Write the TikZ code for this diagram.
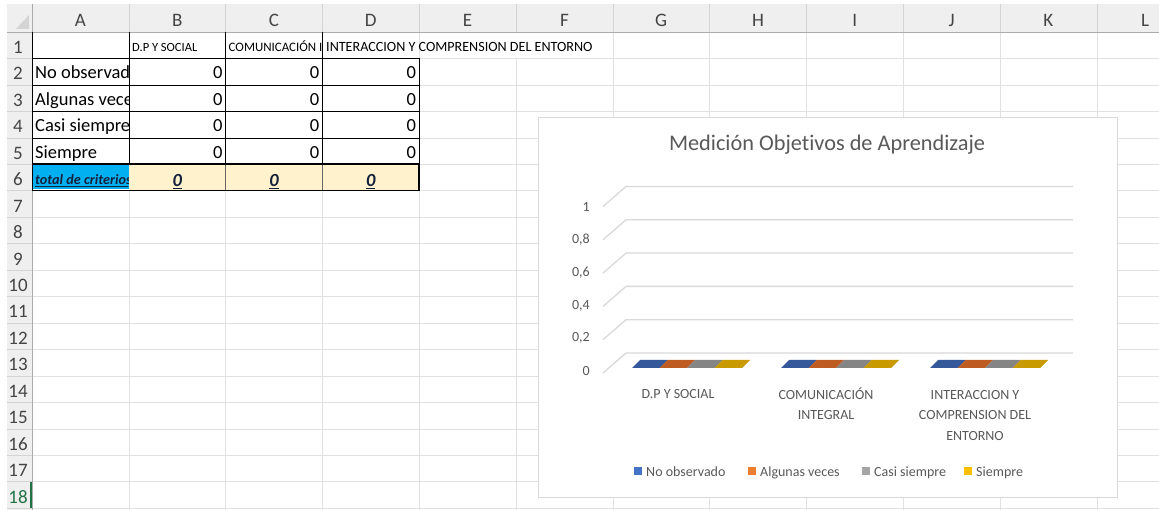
\documentclass[tikz,border=0pt]{standalone}
\usepackage{fontspec}
\setmainfont{Carlito}[Ligatures={NoCommon,NoContextual}]
\definecolor{hdrbg}{HTML}{EFEFEF}
\definecolor{hdrline}{HTML}{D4D4D4}
\definecolor{hdredge}{HTML}{ABABAB}
\definecolor{hdrtext}{HTML}{444444}
\definecolor{cellgrid}{HTML}{E1E1E1}
\definecolor{charttext}{HTML}{595959}
\definecolor{chartgrid}{HTML}{D9D9D9}
\definecolor{totalblue}{HTML}{00B0F0}
\definecolor{totalcream}{HTML}{FFF2CC}
\definecolor{totalnavy}{HTML}{14213D}
\definecolor{excelgreen}{HTML}{217346}
\definecolor{serblue}{HTML}{4472C4}
\definecolor{serorange}{HTML}{ED7D31}
\definecolor{sergray}{HTML}{A5A5A5}
\definecolor{sergold}{HTML}{FFC000}
\definecolor{barblue}{HTML}{35589A}
\definecolor{barorange}{HTML}{BD5B22}
\definecolor{bargray}{HTML}{858585}
\definecolor{bargold}{HTML}{C89A00}
\begin{document}
\begin{tikzpicture}[x=1pt, y=-1pt,
		hdr/.style={font=\fontsize{19}{19}\selectfont, text=hdrtext, inner sep=0pt},
		cell/.style={font=\fontsize{18.5}{18.5}\selectfont, inner sep=0pt},
		colhead/.style={font=\fontsize{14.1}{14}\selectfont, inner sep=0pt, anchor=base west},
		total/.style={font=\fontsize{18.5}{18.5}\selectfont\bfseries\itshape, text=totalnavy, inner sep=0pt},
		lbl/.style={font=\fontsize{14}{20.5}\selectfont, text=charttext, inner sep=0pt},
		charttitle/.style={font=\fontsize{22.3}{24}\selectfont, text=charttext, inner sep=0pt}]
	\useasboundingbox (0,0) rectangle (1159,510);
	\fill[white] (0,0) rectangle (1159,510);
	\fill[hdrbg] (7,4) rectangle (1159,32);
	\fill[hdrbg] (7,4) rectangle (32,510);
	\fill[hdrline] (16,29) -- (29,29) -- (29,15) -- cycle;
	\foreach \k in {1,...,11} {
		\draw[cellgrid] ({32+96.8*\k},32) -- ({32+96.8*\k},510);
		\draw[hdrline] ({32+96.8*\k},4) -- ({32+96.8*\k},32);
	}
	\foreach \r in {1,...,18} {
		\draw[cellgrid] (32,{32+26.45*\r}) -- (1159,{32+26.45*\r});
		\draw[hdrline] (7,{32+26.45*\r}) -- (32,{32+26.45*\r});
	}
	\draw[hdredge] (7,32) -- (1159,32);
	\draw[hdredge] (32,4) -- (32,510);
	\draw[excelgreen, line width=2] (31,481.7) -- (31,508.2);
	\foreach \l [count=\k] in {A,B,C,D,E,F,G,H,I,J,K,L}
		\node[hdr, anchor=base] (col\l) at ({32+96.8*(\k-0.5)},26.5) {\l};
	\foreach \r in {1,...,17}
		\node[hdr, anchor=base] (row\r) at (18,{32+26.45*\r-5}) {\r};
	\node[hdr, anchor=base, text=excelgreen] (row18) at (18,{32+26.45*18-5}) {18};
	\fill[white] (419.8,32.6) rectangle (611.6,57.9);
	\fill[totalblue] (32.5,164.8) rectangle (128.8,189.5);
	\fill[totalcream] (128.8,164.8) rectangle (419.2,190);
	\draw (32,32) -- (32,190.7);
	\draw (128.8,32) -- (128.8,164.25);
	\draw (225.6,32) -- (225.6,164.25);
	\draw (322.4,32) -- (322.4,164.25);
	\draw[gray!80!black] (225.6,164.25) -- (225.6,190.7);
	\draw[gray!80!black] (322.4,164.25) -- (322.4,190.7);
	\draw (419.2,58.45) -- (419.2,164.25);
	\foreach \r in {1,...,4}
		\draw (32,{32+26.45*\r}) -- (419.2,{32+26.45*\r});
	\draw[line width=1.6] (32,164.25) -- (419.2,164.25) -- (419.2,190.7) -- (32,190.7);
	\node[colhead, font=\fontsize{12.5}{13}\selectfont] (hdB) at (132,52) {D.P Y SOCIAL};
	\begin{scope}
		\clip (225.6,32) rectangle (322,58.45);
		\node[colhead, font=\fontsize{12.9}{13}\selectfont] (hdC) at (228.5,52) {COMUNICACIÓN I};
	\end{scope}
	\node[colhead] (hdD) at (326,52) {INTERACCION Y COMPRENSION DEL ENTORNO};
	\begin{scope}
		\clip (32,32) rectangle (128.3,191);
		\foreach \t [count=\r from 2] in {No observado, Algunas veces, Casi siempre, Siempre}
			\node[cell, anchor=base west] (crit\r) at (35,{32+26.45*\r-6}) {\t};
		\node[total, font=\fontsize{14.2}{15}\selectfont\bfseries\itshape, anchor=base west] (crit6) at (35,185) {\underline{total de criterios}};
	\end{scope}
	\foreach \k in {2,3,4} {
		\foreach \r in {2,...,5}
			\node[cell, anchor=base east] (val\k\r) at ({32+96.8*\k-3},{32+26.45*\r-6}) {0};
		\node[total, anchor=base] (sum\k) at ({32+96.8*(\k-0.5)},186.5) {\underline{0}};
	}
	\draw[chartgrid, fill=white] (538,117) rectangle (1117,497);
	\node[charttitle] (chart) at (827,145) {Medición Objetivos de Aprendizaje};
	\foreach \t [count=\k from 0] in {0,{0,2},{0,4},{0,6},{0,8},1} {
		\draw[chartgrid, line width=1.3] (603,{373-33.3*\k}) -- (626,{353-33.3*\k}) -- (1073,{353-33.3*\k});
		\node[lbl, anchor=east] (tick\k) at (590,{371-32.8*\k}) {\t};
	}
	\foreach \g in {632,781,930}
		\foreach \c [count=\s from 0] in {barblue,barorange,bargray,bargold}
			\fill[\c] ({\g+27.5*\s},368) -- ({\g+27.5*(\s+1)},368) -- ({\g+27.5*(\s+1)+8},360) -- ({\g+27.5*\s+8},360) -- cycle;
	\node[lbl, align=center, anchor=base] (catB) at (678,399) {D.P Y SOCIAL};
	\node[lbl, align=center, anchor=base] (catC) at (826,419.5) {COMUNICACIÓN\\INTEGRAL};
	\node[lbl, align=center, anchor=base] (catD) at (975,440) {INTERACCION Y\\COMPRENSION DEL\\ENTORNO};
	\foreach \c/\t/\x [count=\i] in {serblue/No observado/634, serorange/Algunas veces/748, sergray/Casi siempre/862, sergold/Siempre/964} {
		\fill[\c] (\x,467) rectangle ++(8,8);
		\node[lbl, anchor=base west] (leg\i) at ({\x+12},476) {\t};
	}
\end{tikzpicture}
\end{document}
